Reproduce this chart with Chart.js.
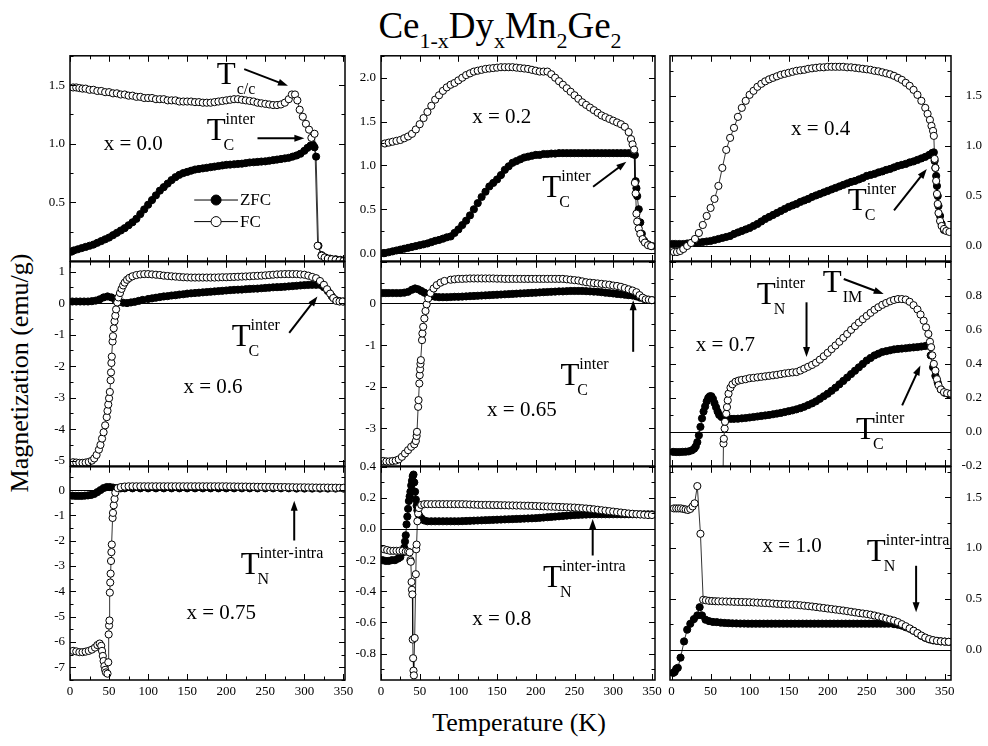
<!DOCTYPE html>
<html>
<head>
<meta charset="utf-8">
<script src="https://cdn.jsdelivr.net/npm/chart.js@4.4.1/dist/chart.umd.min.js"></script>
<style>
  body { margin: 0; background: #fff; width: 988px; height: 746px; position: relative; overflow: hidden; font-family: "Liberation Serif", serif; }
  canvas { position: absolute; }
  #title { position: absolute; left: 0; width: 1000px; top: 7px; text-align: center; font-size: 37px; line-height: 37px; }
  #title span { font-size: 22px; position: relative; top: 10px; line-height: 0; }
  #xlab { position: absolute; left: 0; width: 1038px; top: 708px; text-align: center; font-size: 26px; line-height: 30px; }
  #ylab { position: absolute; left: 20px; top: 373px; font-size: 26px; line-height: 30px; white-space: nowrap; transform: translate(-50%, -50%) rotate(-90deg); }
</style>
</head>
<body>
<div id="title">Ce<span>1-x</span>Dy<span>x</span>Mn<span>2</span>Ge<span>2</span></div>
<div id="ylab">Magnetization (emu/g)</div>
<div id="xlab">Temperature (K)</div>
<script>
// ---- data: [temperature K, magnetization emu/g] ----
const xTicks = [0, 50, 100, 150, 200, 250, 300, 350];

const yTicks_x00 = [0.5, 1.0, 1.5];
const yTicks_x02 = [0.0, 0.5, 1.0, 1.5, 2.0];
const yTicks_x04 = [0.0, 0.5, 1.0, 1.5];
const yTicks_x06 = [-5, -4, -3, -2, -1, 0, 1];
const yTicks_x065 = [-3, -2, -1, 0];
const yTicks_x07 = [-0.2, 0.0, 0.2, 0.4, 0.6, 0.8];
const yTicks_x075 = [-7, -6, -5, -4, -3, -2, -1, 0];
const yTicks_x08 = [-0.8, -0.6, -0.4, -0.2, 0.0, 0.2, 0.4];
const yTicks_x10 = [0.0, 0.5, 1.0, 1.5];

const zfc_x00 = [[2,0.08],[5,0.09],[10,0.10],[15,0.11],[20,0.12],[25,0.13],[30,0.14],[35,0.155],[40,0.17],[45,0.185],[50,0.20],[55,0.22],[60,0.24],[65,0.26],[70,0.28],[75,0.305],[80,0.33],[85,0.36],[90,0.40],[95,0.44],[100,0.48],[105,0.52],[110,0.56],[115,0.60],[120,0.63],[125,0.66],[130,0.69],[135,0.715],[140,0.735],[145,0.75],[150,0.76],[155,0.77],[160,0.78],[165,0.785],[170,0.79],[175,0.795],[180,0.80],[185,0.805],[190,0.81],[195,0.815],[200,0.82],[205,0.822],[210,0.825],[215,0.828],[220,0.83],[225,0.835],[230,0.84],[235,0.842],[240,0.845],[245,0.848],[250,0.85],[255,0.855],[260,0.86],[265,0.865],[270,0.87],[275,0.875],[280,0.88],[285,0.89],[290,0.90],[295,0.915],[300,0.94],[304,0.965],[308,0.985],[311,0.99],[313,0.97],[315,0.89],[318,0.13],[322,0.05],[327,0.03],[333,0.02],[340,0.015],[346,0.01]];
const fc_x00 = [[4,1.48],[8,1.48],[12,1.475],[16,1.47],[20,1.47],[25,1.46],[30,1.46],[35,1.45],[40,1.45],[45,1.44],[50,1.44],[55,1.43],[60,1.43],[65,1.42],[70,1.42],[75,1.41],[80,1.41],[85,1.40],[90,1.40],[95,1.39],[100,1.39],[105,1.39],[110,1.38],[115,1.38],[120,1.38],[125,1.37],[130,1.37],[135,1.37],[140,1.36],[145,1.36],[150,1.36],[155,1.36],[160,1.355],[165,1.355],[170,1.35],[175,1.35],[180,1.35],[185,1.355],[190,1.36],[195,1.365],[200,1.37],[205,1.375],[210,1.38],[215,1.38],[220,1.375],[225,1.37],[230,1.365],[235,1.36],[240,1.35],[245,1.345],[250,1.34],[255,1.335],[260,1.33],[265,1.33],[270,1.335],[275,1.35],[280,1.38],[284,1.42],[288,1.42],[291,1.37],[294,1.29],[298,1.23],[302,1.17],[306,1.12],[309,1.05],[313,1.085],[317,0.13],[322,0.045],[326,0.03],[330,0.02],[335,0.015],[340,0.01],[345,0.005],[350,0.0]];

const zfc_x02 = [[3,0.0],[5,0.0],[10,0.01],[15,0.02],[20,0.03],[25,0.04],[30,0.05],[35,0.06],[40,0.07],[45,0.08],[50,0.09],[55,0.10],[60,0.11],[65,0.125],[70,0.14],[75,0.15],[80,0.165],[85,0.18],[90,0.19],[95,0.23],[100,0.27],[105,0.32],[110,0.37],[115,0.43],[120,0.50],[125,0.57],[130,0.64],[135,0.70],[140,0.76],[145,0.80],[150,0.84],[155,0.89],[160,0.95],[165,0.99],[170,1.03],[175,1.05],[180,1.07],[185,1.09],[190,1.10],[195,1.11],[200,1.12],[205,1.12],[210,1.13],[215,1.13],[220,1.135],[225,1.135],[230,1.14],[235,1.14],[240,1.14],[245,1.14],[250,1.14],[255,1.14],[260,1.14],[265,1.14],[270,1.14],[275,1.14],[280,1.14],[285,1.14],[290,1.14],[295,1.14],[300,1.14],[305,1.14],[310,1.14],[315,1.14],[320,1.14],[325,1.13],[328,1.12],[329,0.82],[330,0.74],[331,0.65],[333,0.5],[335,0.35],[337,0.22],[340,0.14],[345,0.10],[350,0.08]];
const fc_x02 = [[5,1.25],[10,1.26],[15,1.27],[20,1.28],[25,1.29],[30,1.31],[35,1.33],[40,1.36],[45,1.41],[50,1.47],[55,1.54],[60,1.61],[65,1.68],[70,1.75],[75,1.80],[80,1.85],[85,1.89],[90,1.92],[95,1.94],[100,1.97],[105,2.00],[110,2.03],[115,2.05],[120,2.07],[125,2.08],[130,2.09],[135,2.10],[140,2.105],[145,2.11],[150,2.115],[155,2.12],[160,2.12],[165,2.12],[170,2.12],[175,2.115],[180,2.11],[185,2.105],[190,2.10],[195,2.09],[200,2.08],[205,2.07],[210,2.07],[215,2.07],[220,2.04],[225,2.00],[230,1.96],[235,1.92],[240,1.88],[245,1.84],[250,1.80],[255,1.76],[260,1.72],[265,1.69],[270,1.66],[275,1.63],[280,1.60],[285,1.57],[290,1.55],[295,1.53],[300,1.51],[305,1.49],[310,1.47],[315,1.44],[320,1.38],[323,1.30],[325,1.24],[327,1.18],[328,0.80],[329,0.68],[330,0.45],[331,0.36],[333,0.28],[335,0.22],[338,0.16],[341,0.12],[345,0.09],[349,0.08]];

const zfc_x04 = [[1,0.02],[5,0.02],[10,0.02],[15,0.02],[20,0.025],[25,0.03],[30,0.03],[35,0.035],[40,0.04],[45,0.045],[50,0.05],[55,0.06],[60,0.07],[65,0.08],[70,0.09],[75,0.10],[80,0.12],[85,0.135],[90,0.15],[95,0.165],[100,0.18],[105,0.20],[110,0.22],[115,0.245],[120,0.27],[125,0.29],[130,0.31],[135,0.33],[140,0.35],[145,0.37],[150,0.39],[155,0.405],[160,0.42],[165,0.44],[170,0.455],[175,0.47],[180,0.49],[185,0.505],[190,0.52],[195,0.535],[200,0.55],[205,0.565],[210,0.58],[215,0.595],[220,0.61],[225,0.625],[230,0.64],[235,0.65],[240,0.665],[245,0.68],[250,0.70],[255,0.71],[260,0.72],[265,0.735],[270,0.745],[275,0.76],[280,0.77],[285,0.785],[290,0.80],[295,0.81],[300,0.82],[305,0.835],[310,0.845],[315,0.86],[320,0.875],[325,0.89],[330,0.91],[334,0.93],[336,0.935],[337,0.85],[338,0.78],[339,0.70],[340,0.60],[341,0.50],[342,0.40],[344,0.30],[346,0.22],[349,0.16]];
const fc_x04 = [[3,-0.06],[7,-0.06],[11,-0.05],[15,-0.03],[20,0.0],[25,0.03],[30,0.07],[35,0.13],[40,0.21],[45,0.30],[50,0.38],[55,0.47],[60,0.60],[65,0.78],[70,0.96],[75,1.08],[80,1.18],[85,1.29],[90,1.38],[95,1.45],[100,1.51],[105,1.55],[110,1.59],[115,1.62],[120,1.645],[125,1.665],[130,1.68],[135,1.695],[140,1.71],[145,1.72],[150,1.73],[155,1.74],[160,1.75],[165,1.755],[170,1.76],[175,1.77],[180,1.775],[185,1.78],[190,1.785],[195,1.785],[200,1.79],[205,1.79],[210,1.79],[215,1.79],[220,1.79],[225,1.785],[230,1.785],[235,1.78],[240,1.775],[245,1.77],[250,1.765],[255,1.76],[260,1.75],[265,1.745],[270,1.735],[275,1.725],[280,1.715],[285,1.70],[290,1.68],[295,1.66],[300,1.63],[305,1.60],[310,1.56],[315,1.51],[320,1.45],[325,1.38],[328,1.32],[331,1.26],[333,1.20],[335,1.15],[336,1.10],[337,0.87],[338,0.78],[339,0.65],[340,0.52],[341,0.42],[342,0.33],[344,0.25],[346,0.20],[349,0.17],[352,0.15],[356,0.14]];

const zfc_x06 = [[3,0.05],[8,0.05],[13,0.05],[18,0.05],[23,0.05],[28,0.06],[33,0.08],[38,0.12],[43,0.18],[48,0.21],[53,0.18],[58,0.10],[63,0.04],[68,0.01],[73,0.0],[78,0.02],[83,0.04],[88,0.07],[93,0.10],[100,0.13],[105,0.15],[110,0.17],[115,0.19],[120,0.21],[125,0.22],[130,0.24],[135,0.25],[140,0.27],[145,0.28],[150,0.30],[155,0.31],[160,0.32],[165,0.33],[170,0.34],[175,0.35],[180,0.36],[185,0.37],[190,0.38],[195,0.39],[200,0.40],[205,0.41],[210,0.42],[215,0.425],[220,0.43],[225,0.44],[230,0.45],[235,0.455],[240,0.46],[245,0.47],[250,0.48],[255,0.49],[260,0.50],[265,0.505],[270,0.51],[275,0.52],[280,0.53],[285,0.54],[290,0.55],[295,0.56],[300,0.57],[305,0.575],[310,0.58],[315,0.58],[320,0.58],[325,0.50],[330,0.38],[335,0.22],[340,0.10],[345,0.06],[350,0.05]];
const fc_x06 = [[4,-5.05],[8,-5.06],[12,-5.07],[16,-5.07],[20,-5.06],[24,-5.04],[28,-5.0],[31,-4.93],[34,-4.82],[37,-4.65],[39,-4.5],[41,-4.3],[43,-4.1],[45,-3.88],[47,-3.62],[48,-3.42],[49,-3.22],[50,-3.02],[51,-2.82],[52,-2.45],[52.5,-2.2],[53,-1.9],[53.5,-1.7],[54.5,-1.22],[55,-1.05],[56,-0.8],[57,-0.58],[58,-0.4],[59,-0.2],[60.5,0.02],[62,0.18],[64,0.32],[66,0.45],[68,0.56],[70,0.65],[73,0.74],[76,0.8],[80,0.85],[85,0.89],[90,0.91],[95,0.92],[100,0.92],[105,0.91],[110,0.90],[115,0.89],[120,0.87],[125,0.86],[130,0.85],[135,0.84],[140,0.83],[145,0.82],[150,0.815],[155,0.81],[160,0.81],[165,0.81],[170,0.81],[175,0.81],[180,0.81],[185,0.81],[190,0.815],[195,0.82],[200,0.82],[205,0.825],[210,0.83],[215,0.835],[220,0.84],[225,0.845],[230,0.85],[235,0.86],[240,0.865],[245,0.87],[250,0.88],[255,0.89],[260,0.90],[265,0.91],[270,0.915],[275,0.92],[280,0.92],[285,0.92],[290,0.92],[295,0.91],[300,0.90],[305,0.87],[310,0.83],[315,0.79],[320,0.70],[325,0.58],[329,0.44],[333,0.30],[337,0.16],[341,0.07],[345,0.05],[349,0.05]];

const zfc_x065 = [[2,0.25],[6,0.25],[10,0.25],[15,0.25],[20,0.25],[25,0.25],[30,0.26],[35,0.28],[40,0.33],[44,0.36],[48,0.34],[52,0.30],[56,0.26],[60,0.22],[65,0.18],[70,0.16],[75,0.15],[80,0.15],[85,0.15],[90,0.155],[95,0.16],[100,0.16],[105,0.165],[110,0.17],[115,0.175],[120,0.18],[125,0.185],[130,0.19],[135,0.195],[140,0.20],[145,0.205],[150,0.21],[155,0.215],[160,0.22],[165,0.225],[170,0.23],[175,0.235],[180,0.24],[185,0.245],[190,0.25],[195,0.255],[200,0.26],[205,0.265],[210,0.27],[215,0.275],[220,0.28],[225,0.285],[230,0.29],[235,0.29],[240,0.295],[245,0.30],[250,0.30],[255,0.30],[260,0.30],[265,0.295],[270,0.29],[275,0.285],[280,0.28],[285,0.27],[290,0.26],[295,0.25],[300,0.24],[305,0.23],[310,0.22],[315,0.21],[320,0.20],[325,0.19],[330,0.17],[335,0.14],[340,0.11],[345,0.09],[350,0.08]];
const fc_x065 = [[3,-3.78],[7,-3.79],[11,-3.79],[15,-3.78],[19,-3.77],[23,-3.74],[27,-3.68],[31,-3.6],[35,-3.52],[39,-3.44],[43,-3.38],[45,-3.3],[46,-3.18],[46.5,-3.08],[48,-2.48],[48.5,-2.32],[49.5,-1.92],[50,-1.72],[50.5,-1.58],[51,-1.45],[51.5,-1.36],[53,-0.88],[53.5,-0.72],[54.5,-0.56],[56,-0.36],[57.5,-0.18],[59,-0.02],[61,0.12],[64,0.25],[68,0.36],[72,0.44],[77,0.50],[82,0.54],[90,0.57],[95,0.58],[100,0.59],[105,0.59],[110,0.595],[115,0.60],[120,0.60],[125,0.60],[130,0.60],[135,0.60],[140,0.60],[145,0.60],[150,0.595],[155,0.595],[160,0.59],[165,0.59],[170,0.59],[175,0.59],[180,0.59],[185,0.59],[190,0.59],[195,0.59],[200,0.59],[205,0.59],[210,0.59],[215,0.59],[220,0.59],[225,0.59],[230,0.59],[235,0.59],[240,0.58],[245,0.57],[250,0.56],[255,0.55],[260,0.53],[265,0.51],[270,0.50],[275,0.49],[280,0.48],[285,0.47],[290,0.46],[295,0.45],[300,0.43],[305,0.42],[310,0.40],[315,0.37],[320,0.34],[325,0.31],[330,0.27],[334,0.20],[338,0.14],[342,0.10],[346,0.09],[350,0.08]];

const zfc_x07 = [[2,-0.117],[6,-0.118],[10,-0.118],[14,-0.117],[18,-0.116],[22,-0.114],[26,-0.108],[29,-0.098],[31,-0.085],[33,-0.06],[35,-0.02],[37,0.03],[39,0.08],[41,0.12],[43,0.15],[45,0.18],[47,0.20],[49,0.21],[51,0.21],[53,0.195],[55,0.17],[57,0.145],[59,0.12],[61,0.10],[64,0.088],[68,0.08],[72,0.078],[76,0.077],[80,0.077],[85,0.078],[90,0.08],[95,0.082],[100,0.085],[105,0.088],[110,0.091],[115,0.094],[120,0.097],[125,0.10],[130,0.104],[135,0.108],[140,0.112],[145,0.117],[150,0.122],[155,0.127],[160,0.133],[165,0.14],[170,0.148],[175,0.158],[180,0.168],[185,0.18],[190,0.195],[195,0.21],[200,0.225],[205,0.242],[210,0.26],[215,0.28],[220,0.30],[225,0.32],[230,0.34],[235,0.36],[240,0.38],[245,0.40],[250,0.42],[255,0.435],[260,0.45],[265,0.46],[270,0.47],[275,0.475],[280,0.48],[285,0.485],[290,0.488],[295,0.49],[300,0.492],[305,0.495],[310,0.497],[315,0.499],[320,0.502],[325,0.505],[329,0.508],[332,0.45],[335,0.38],[338,0.33],[341,0.29],[345,0.25],[350,0.23],[356,0.22]];
const fc_x07 = [[65,-0.6],[66.5,-0.068],[67,-0.04],[68,0.02],[68.5,0.06],[70,0.107],[71,0.146],[72,0.186],[73,0.225],[75.5,0.26],[78,0.28],[82,0.295],[86,0.302],[90,0.306],[95,0.31],[100,0.316],[105,0.318],[110,0.321],[115,0.324],[120,0.327],[125,0.33],[130,0.333],[135,0.336],[140,0.34],[145,0.344],[150,0.347],[155,0.35],[160,0.352],[165,0.361],[170,0.372],[175,0.383],[180,0.394],[185,0.407],[190,0.425],[195,0.445],[200,0.465],[205,0.487],[210,0.508],[215,0.53],[220,0.553],[225,0.576],[230,0.6],[235,0.622],[240,0.643],[245,0.663],[250,0.682],[255,0.7],[260,0.718],[265,0.733],[270,0.747],[275,0.758],[280,0.768],[285,0.776],[290,0.781],[295,0.781],[300,0.778],[305,0.765],[310,0.745],[315,0.72],[319,0.69],[323,0.654],[326,0.615],[329,0.576],[331,0.53],[332.5,0.498],[334,0.45],[336,0.40],[338,0.36],[340,0.31],[342,0.275],[345,0.25],[349,0.234],[353,0.228],[358,0.225]];

const zfc_x075 = [[3,-0.22],[7,-0.23],[11,-0.23],[15,-0.23],[19,-0.22],[23,-0.21],[27,-0.19],[31,-0.15],[35,-0.08],[39,0.0],[43,0.08],[47,0.12],[51,0.12],[55,0.1],[60,0.08],[65,0.07],[70,0.07],[80,0.07],[90,0.07],[100,0.07],[110,0.07],[120,0.07],[130,0.07],[140,0.07],[150,0.07],[160,0.07],[170,0.07],[180,0.07],[190,0.07],[200,0.07],[210,0.07],[220,0.07],[230,0.07],[240,0.07],[250,0.07],[260,0.07],[270,0.07],[280,0.07],[290,0.06],[300,0.06],[310,0.06],[320,0.06],[330,0.06],[340,0.06],[350,0.06]];
const fc_x075 = [[4,-6.35],[8,-6.37],[12,-6.4],[16,-6.4],[20,-6.38],[24,-6.35],[28,-6.3],[32,-6.22],[35,-6.12],[38,-6.06],[40,-6.15],[41,-6.35],[42,-6.55],[43,-6.75],[44,-6.95],[45,-7.1],[46,-7.2],[48,-7.25],[49,-6.8],[49.5,-5.7],[50,-5.35],[50.5,-5.15],[51,-4.05],[51.5,-3.65],[52,-3.3],[52.5,-2.8],[53,-2.45],[53.5,-2.15],[54.5,-1.1],[55,-0.9],[56,-0.6],[57,-0.35],[58,-0.1],[61,0.08],[65,0.12],[70,0.14],[75,0.15],[80,0.15],[85,0.15],[90,0.15],[95,0.15],[100,0.15],[105,0.15],[110,0.15],[115,0.15],[120,0.15],[125,0.15],[130,0.15],[135,0.15],[140,0.15],[145,0.15],[150,0.15],[155,0.15],[160,0.15],[165,0.15],[170,0.15],[175,0.15],[180,0.15],[185,0.15],[190,0.15],[195,0.15],[200,0.15],[205,0.145],[210,0.145],[215,0.14],[220,0.14],[225,0.14],[230,0.135],[235,0.135],[240,0.13],[245,0.13],[250,0.13],[255,0.125],[260,0.125],[265,0.12],[270,0.12],[275,0.12],[280,0.115],[285,0.115],[290,0.11],[295,0.11],[300,0.11],[305,0.105],[310,0.105],[315,0.10],[320,0.10],[325,0.10],[330,0.10],[335,0.095],[340,0.095],[345,0.09],[350,0.09]];

const zfc_x08 = [[2,-0.20],[6,-0.205],[10,-0.205],[14,-0.20],[18,-0.20],[22,-0.19],[25,-0.18],[28,-0.15],[30,-0.12],[31,-0.08],[32,-0.04],[33,0.03],[34,0.08],[35,0.13],[36,0.18],[37,0.21],[38,0.24],[39,0.28],[40,0.31],[41,0.34],[42,0.35],[43,0.30],[44,0.24],[45,0.19],[46,0.15],[47,0.12],[49,0.09],[52,0.07],[56,0.055],[60,0.05],[65,0.05],[70,0.05],[75,0.05],[80,0.05],[85,0.05],[90,0.05],[95,0.05],[100,0.05],[105,0.051],[110,0.052],[115,0.053],[120,0.054],[125,0.055],[130,0.056],[135,0.057],[140,0.058],[145,0.059],[150,0.06],[155,0.061],[160,0.062],[165,0.063],[170,0.064],[175,0.065],[180,0.066],[185,0.067],[190,0.068],[195,0.069],[200,0.07],[205,0.072],[210,0.074],[215,0.076],[220,0.078],[225,0.08],[230,0.082],[235,0.084],[240,0.086],[245,0.088],[250,0.09],[255,0.091],[260,0.092],[265,0.093],[270,0.094],[275,0.095],[280,0.095],[285,0.095],[290,0.095],[295,0.095],[300,0.095],[305,0.095],[310,0.095],[315,0.095],[320,0.095],[325,0.095],[330,0.095],[335,0.095],[340,0.095],[345,0.095],[350,0.095]];
const fc_x08 = [[4,-0.13],[8,-0.135],[12,-0.14],[16,-0.14],[20,-0.14],[24,-0.14],[28,-0.14],[32,-0.145],[35,-0.145],[37,-0.15],[38,-0.2],[38.5,-0.21],[39.5,-0.34],[40,-0.39],[40.5,-0.42],[41,-0.71],[41.5,-0.83],[42,-0.91],[42.5,-0.94],[43.5,-0.70],[45,-0.29],[45.5,-0.13],[46,-0.1],[47,0.05],[48,0.10],[49,0.135],[52,0.155],[56,0.16],[60,0.16],[65,0.16],[70,0.16],[75,0.16],[80,0.16],[85,0.16],[90,0.16],[95,0.16],[100,0.16],[105,0.16],[110,0.159],[115,0.158],[120,0.157],[125,0.156],[130,0.155],[135,0.155],[140,0.155],[145,0.154],[150,0.154],[155,0.153],[160,0.153],[165,0.152],[170,0.152],[175,0.151],[180,0.151],[185,0.15],[190,0.15],[195,0.149],[200,0.148],[205,0.147],[210,0.146],[215,0.145],[220,0.144],[225,0.143],[230,0.142],[235,0.141],[240,0.14],[245,0.139],[250,0.138],[255,0.136],[260,0.134],[265,0.132],[270,0.13],[275,0.127],[280,0.124],[285,0.121],[290,0.118],[295,0.115],[300,0.112],[305,0.109],[310,0.106],[315,0.103],[320,0.1],[325,0.098],[330,0.096],[335,0.094],[340,0.092],[345,0.09],[350,0.09]];

const zfc_x10 = [[2,-0.23],[4,-0.22],[6,-0.19],[8,-0.18],[11.5,-0.08],[16,0.08],[20,0.196],[24,0.254],[28.6,0.30],[33,0.336],[36,0.417],[39,0.336],[43.5,0.294],[48,0.28],[53,0.272],[58,0.27],[63,0.265],[68,0.262],[73,0.26],[78,0.258],[83,0.257],[88,0.256],[93,0.256],[98,0.255],[103,0.255],[108,0.255],[113,0.255],[118,0.255],[123,0.255],[128,0.255],[133,0.255],[138,0.255],[143,0.255],[148,0.255],[153,0.255],[158,0.255],[163,0.255],[168,0.255],[173,0.255],[178,0.255],[183,0.255],[188,0.255],[193,0.255],[198,0.255],[203,0.255],[208,0.255],[213,0.255],[218,0.255],[223,0.255],[228,0.255],[233,0.255],[238,0.255],[243,0.255],[248,0.255],[253,0.255],[258,0.255],[263,0.255],[268,0.255],[273,0.255],[278,0.255],[285,0.25],[290,0.245],[295,0.235],[300,0.22],[305,0.205],[310,0.185],[315,0.16],[320,0.135],[325,0.115],[330,0.10],[335,0.09],[340,0.085],[345,0.08],[350,0.078],[355,0.075]];
const fc_x10 = [[3,1.39],[6,1.39],[9,1.39],[12,1.39],[15,1.385],[18,1.38],[21,1.375],[24,1.385],[27,1.41],[29.5,1.44],[33,1.61],[37,1.14],[40.5,0.49],[44,0.485],[48,0.48],[52,0.478],[56,0.476],[60,0.475],[65,0.474],[70,0.473],[75,0.472],[80,0.47],[85,0.469],[90,0.468],[95,0.467],[100,0.466],[105,0.464],[110,0.462],[115,0.46],[120,0.458],[125,0.456],[130,0.453],[135,0.45],[140,0.448],[145,0.446],[150,0.444],[155,0.442],[160,0.44],[165,0.436],[170,0.432],[175,0.428],[180,0.424],[185,0.419],[190,0.414],[195,0.409],[200,0.404],[205,0.399],[210,0.394],[215,0.389],[220,0.384],[225,0.378],[230,0.372],[235,0.366],[240,0.36],[245,0.355],[250,0.35],[255,0.343],[260,0.335],[265,0.326],[270,0.316],[275,0.305],[280,0.295],[285,0.285],[290,0.27],[295,0.25],[300,0.23],[305,0.208],[310,0.185],[315,0.162],[320,0.138],[325,0.118],[330,0.103],[335,0.093],[340,0.086],[345,0.081],[350,0.078],[355,0.076]];

// ---- panel layout (page px) and annotations (data units) ----
const panels = [
  { l: 70, r: 345, t: 55, b: 261, xMin: 0, xMax: 352, yMin: 0, yMax: 1.75, yMajor: 0.5, yMinor: 0.25, yTicks: yTicks_x00, dec: 1, zfc: zfc_x00, fc: fc_x00,
    notes: [
      { k: 'text', t: 81, m: 0.99, s: 'x = 0.0' },
      { k: 'T', t: 200, m: 1.508, sub: 'c/c', subDx: 3 },
      { k: 'arrow', t1: 223, m1: 1.636, t2: 279, m2: 1.494 },
      { k: 'T', t: 187, m: 1.028, sup: 'inter', sub: 'C' },
      { k: 'arrow', t1: 240, m1: 1.047, t2: 300, m2: 1.047 },
      { k: 'legend', t1: 159, t2: 215, m: 0.52, filled: true, s: 'ZFC' },
      { k: 'legend', t1: 159, t2: 215, m: 0.336, filled: false, s: 'FC' }
    ] },
  { l: 381, r: 655, t: 55, b: 261, xMin: 0, xMax: 354, yMin: -0.09, yMax: 2.25, yMajor: 0.5, yMinor: 0.25, yTicks: yTicks_x02, dec: 1, zfc: zfc_x02, fc: fc_x02,
    notes: [
      { k: 'text', t: 156, m: 1.552, s: 'x = 0.2' },
      { k: 'T', t: 220.6, m: 0.643, sup: 'inter', sub: 'C' },
      { k: 'arrow', t1: 274, m1: 0.757, t2: 317, m2: 1.041 }
    ] },
  { l: 670, r: 951, t: 55, b: 261, xMin: -2, xMax: 358, yMin: -0.15, yMax: 1.9, yMajor: 0.5, yMinor: 0.25, yTicks: yTicks_x04, dec: 1, right: true, zfc: zfc_x04, fc: fc_x04,
    notes: [
      { k: 'text', t: 191, m: 1.168, s: 'x = 0.4' },
      { k: 'T', t: 238, m: 0.355, sup: 'inter', sub: 'C' },
      { k: 'arrow', t1: 285, m1: 0.355, t2: 327, m2: 0.77 }
    ] },
  { l: 70, r: 345, t: 261, b: 466, xMin: 0, xMax: 352, yMin: -5.17, yMax: 1.31, yMajor: 1, yMinor: 0.5, yTicks: yTicks_x06, dec: 0, zfc: zfc_x06, fc: fc_x06,
    notes: [
      { k: 'text', t: 183, m: -2.68, s: 'x = 0.6' },
      { k: 'T', t: 219, m: -1.367, sup: 'inter', sub: 'C' },
      { k: 'arrow', t1: 280.6, m1: -0.947, t2: 316.7, m2: 0.212 }
    ] },
  { l: 381, r: 655, t: 261, b: 466, xMin: 0, xMax: 354, yMin: -3.9, yMax: 1.0, yMajor: 1, yMinor: 0.5, yTicks: yTicks_x065, dec: 0, zfc: zfc_x065, fc: fc_x065,
    notes: [
      { k: 'text', t: 182, m: -2.56, s: 'x = 0.65' },
      { k: 'T', t: 244, m: -1.96, sup: 'inter', sub: 'C' },
      { k: 'arrow', t1: 325.8, m1: -1.16, t2: 325.8, m2: 0.08 }
    ] },
  { l: 670, r: 951, t: 261, b: 466, xMin: -2, xMax: 358, yMin: -0.2, yMax: 1.0, yMajor: 0.2, yMinor: 0.1, yTicks: yTicks_x07, dec: 1, right: true, zfc: zfc_x07, fc: fc_x07,
    notes: [
      { k: 'text', t: 69, m: 0.508, s: 'x = 0.7' },
      { k: 'T', t: 121.4, m: 0.752, sup: 'inter', sub: 'N' },
      { k: 'arrow', t1: 172.9, m1: 0.762, t2: 172.9, m2: 0.44 },
      { k: 'T', t: 205.8, m: 0.82, sub: 'IM', subDx: 3 },
      { k: 'arrow', t1: 220.6, m1: 0.899, t2: 271.8, m2: 0.811 },
      { k: 'T', t: 248.4, m: -0.039, sup: 'inter', sub: 'C' },
      { k: 'arrow', t1: 295.4, m1: 0.156, t2: 318.8, m2: 0.391 }
    ] },
  { l: 70, r: 345, t: 466, b: 680, xMin: 0, xMax: 352, yMin: -7.5, yMax: 0.92, yMajor: 1, yMinor: 0.5, yTicks: yTicks_x075, dec: 0, xLabels: true, zfc: zfc_x075, fc: fc_x075,
    notes: [
      { k: 'text', t: 193.5, m: -4.876, s: 'x = 0.75' },
      { k: 'T', t: 230.6, m: -3.30, sup: 'inter-intra', sub: 'N' },
      { k: 'arrow', t1: 287, m1: -1.99, t2: 287, m2: -0.42 }
    ] },
  { l: 381, r: 655, t: 466, b: 680, xMin: 0, xMax: 354, yMin: -0.97, yMax: 0.4, yMajor: 0.2, yMinor: 0.1, yTicks: yTicks_x08, dec: 1, xLabels: true, zfc: zfc_x08, fc: fc_x08,
    notes: [
      { k: 'text', t: 156, m: -0.58, s: 'x = 0.8' },
      { k: 'T', t: 221.6, m: -0.372, sup: 'inter-intra', sub: 'N' },
      { k: 'arrow', t1: 273.5, m1: -0.17, t2: 273.5, m2: 0.064 }
    ] },
  { l: 670, r: 951, t: 466, b: 680, xMin: -2, xMax: 358, yMin: -0.3, yMax: 1.8, yMajor: 0.5, yMinor: 0.25, yTicks: yTicks_x10, dec: 1, right: true, xLabels: true, zfc: zfc_x10, fc: fc_x10,
    notes: [
      { k: 'text', t: 154.5, m: 1.011, s: 'x = 1.0' },
      { k: 'T', t: 262.2, m: 0.874, sup: 'inter-intra', sub: 'N' },
      { k: 'arrow', t1: 313.3, m1: 0.825, t2: 313.3, m2: 0.368 }
    ] }
];

const SERIF = '"Liberation Serif", "Times New Roman", serif';
Chart.defaults.font.family = SERIF;
Chart.defaults.color = '#000';

function isMultiple(v, step) {
  const q = v / step;
  return Math.abs(q - Math.round(q)) < 1e-6;
}

function eachStep(min, max, step, fn) {
  const a = Math.ceil(min / step - 1e-6);
  const b = Math.floor(max / step + 1e-6);
  for (let i = a; i <= b; i++) fn(i * step);
}

function dot(ctx, x, y, r, filled) {
  ctx.beginPath();
  ctx.arc(x, y, r, 0, Math.PI * 2);
  ctx.fillStyle = filled ? '#000' : '#fff';
  ctx.fill();
  ctx.lineWidth = 1;
  ctx.strokeStyle = '#000';
  ctx.stroke();
}

function drawNote(ctx, n, xs, ys) {
  ctx.fillStyle = '#000';
  ctx.strokeStyle = '#000';
  ctx.textBaseline = 'alphabetic';
  if (n.k === 'text') {
    ctx.font = '21px ' + SERIF;
    ctx.textAlign = 'center';
    ctx.textBaseline = 'middle';
    ctx.fillText(n.s, xs.getPixelForValue(n.t), ys.getPixelForValue(n.m));
  } else if (n.k === 'T') {
    const x = xs.getPixelForValue(n.t), y = ys.getPixelForValue(n.m);
    ctx.font = '31px ' + SERIF;
    ctx.textAlign = 'center';
    ctx.fillText('T', x, y);
    const w = ctx.measureText('T').width;
    ctx.font = '16px ' + SERIF;
    ctx.textAlign = 'left';
    if (n.sup) ctx.fillText(n.sup, x + w / 2, y - 16);
    if (n.sub) ctx.fillText(n.sub, x + w / 2 - 2 + (n.subDx || 0), y + 10);
  } else if (n.k === 'arrow') {
    const x1 = xs.getPixelForValue(n.t1), y1 = ys.getPixelForValue(n.m1);
    const x2 = xs.getPixelForValue(n.t2), y2 = ys.getPixelForValue(n.m2);
    const ang = Math.atan2(y2 - y1, x2 - x1);
    const c = Math.cos(ang), s = Math.sin(ang), hl = 10, hw = 3.5;
    ctx.lineWidth = 2;
    ctx.beginPath();
    ctx.moveTo(x1, y1);
    ctx.lineTo(x2 - hl * 0.7 * c, y2 - hl * 0.7 * s);
    ctx.stroke();
    ctx.beginPath();
    ctx.moveTo(x2, y2);
    ctx.lineTo(x2 - hl * c + hw * s, y2 - hl * s - hw * c);
    ctx.lineTo(x2 - hl * c - hw * s, y2 - hl * s + hw * c);
    ctx.closePath();
    ctx.fill();
  } else if (n.k === 'legend') {
    const x1 = xs.getPixelForValue(n.t1), x2 = xs.getPixelForValue(n.t2), y = ys.getPixelForValue(n.m);
    ctx.lineWidth = 1;
    ctx.beginPath();
    ctx.moveTo(x1, y);
    ctx.lineTo(x2, y);
    ctx.stroke();
    dot(ctx, (x1 + x2) / 2, y, 5, n.filled);
    ctx.fillStyle = '#000';
    ctx.font = '17px ' + SERIF;
    ctx.textAlign = 'left';
    ctx.textBaseline = 'middle';
    ctx.fillText(n.s, x2 + 2, y + 1);
  }
}

const panelDeco = {
  id: 'panelDeco',
  beforeDatasetsDraw(chart, args, o) {
    const { ctx, chartArea: a, scales: { y } } = chart;
    if (y.min < 0 && y.max > 0) {
      const py = Math.round(y.getPixelForValue(0)) + 0.5;
      ctx.save();
      ctx.strokeStyle = '#000';
      ctx.lineWidth = 1.2;
      ctx.beginPath();
      ctx.moveTo(a.left, py);
      ctx.lineTo(a.right, py);
      ctx.stroke();
      ctx.restore();
    }
  },
  afterDatasetsDraw(chart, args, o) {
    const { ctx, chartArea: a, scales: { x, y } } = chart;
    ctx.save();
    ctx.strokeStyle = '#000';
    ctx.lineWidth = 1;
    ctx.beginPath();
    eachStep(x.min, x.max, 25, v => {
      const px = Math.round(x.getPixelForValue(v)) + 0.5;
      const len = isMultiple(v, 50) ? 6 : 3.5;
      ctx.moveTo(px, a.bottom); ctx.lineTo(px, a.bottom - len);
      ctx.moveTo(px, a.top); ctx.lineTo(px, a.top + len);
    });
    eachStep(y.min, y.max, o.yMinor, v => {
      const py = Math.round(y.getPixelForValue(v)) + 0.5;
      const len = isMultiple(v, o.yMajor) ? 6 : 3.5;
      ctx.moveTo(a.left, py); ctx.lineTo(a.left + len, py);
      ctx.moveTo(a.right, py); ctx.lineTo(a.right - len, py);
    });
    ctx.stroke();
    ctx.lineWidth = 1.5;
    ctx.strokeRect(a.left, a.top, a.right - a.left, a.bottom - a.top);
    for (const n of o.notes) drawNote(ctx, n, x, y);
    ctx.restore();
  }
};

const M = 45, MT = 12, MB = 32;

function makePanel(p) {
  const W = p.r - p.l, H = p.b - p.t;
  const cv = document.createElement('canvas');
  cv.width = W + 2 * M;
  cv.height = H + MT + MB;
  cv.style.left = (p.l - M) + 'px';
  cv.style.top = (p.t - MT) + 'px';
  document.body.appendChild(cv);

  const yW = p.right ? 31 : 38;
  const xH = p.xLabels ? 22 : 0;
  const points = arr => arr.map(([t, m]) => ({ x: t, y: m }));

  return new Chart(cv, {
    type: 'scatter',
    data: {
      datasets: [
        { label: 'FC', data: points(p.fc), showLine: true, borderColor: '#000', borderWidth: 0.8,
          pointRadius: 3.6, pointBorderWidth: 1, pointBackgroundColor: '#fff', pointBorderColor: '#000' },
        { label: 'ZFC', data: points(p.zfc), showLine: true, borderColor: '#000', borderWidth: 0.8,
          pointRadius: 3.6, pointBorderWidth: 1, pointBackgroundColor: '#000', pointBorderColor: '#000' }
      ]
    },
    options: {
      responsive: false,
      animation: false,
      devicePixelRatio: 1,
      events: [],
      layout: {
        padding: {
          left: p.right ? M : M - yW,
          right: p.right ? M - yW : M,
          top: MT,
          bottom: MB - xH
        }
      },
      plugins: {
        legend: { display: false },
        tooltip: { enabled: false },
        panelDeco: { yMajor: p.yMajor, yMinor: p.yMinor, notes: p.notes }
      },
      scales: {
        x: {
          type: 'linear',
          min: p.xMin,
          max: p.xMax,
          grid: { display: false, drawTicks: false },
          border: { display: false },
          ticks: { display: !!p.xLabels, padding: 4, autoSkip: false, maxRotation: 0, font: { size: 13 } },
          afterBuildTicks: s => { s.ticks = xTicks.map(v => ({ value: v })); },
          afterFit: s => { s.height = xH; }
        },
        y: {
          type: 'linear',
          position: p.right ? 'right' : 'left',
          min: p.yMin,
          max: p.yMax,
          grid: { display: false, drawTicks: false },
          border: { display: false },
          ticks: {
            padding: 5,
            autoSkip: false,
            crossAlign: p.right ? 'far' : 'near',
            font: { size: 13 },
            callback: v => Number(v).toFixed(p.dec)
          },
          afterBuildTicks: s => { s.ticks = p.yTicks.map(v => ({ value: v })); },
          afterFit: s => { s.width = yW; }
        }
      }
    },
    plugins: [panelDeco]
  });
}

panels.forEach(makePanel);
</script>
</body>
</html>
